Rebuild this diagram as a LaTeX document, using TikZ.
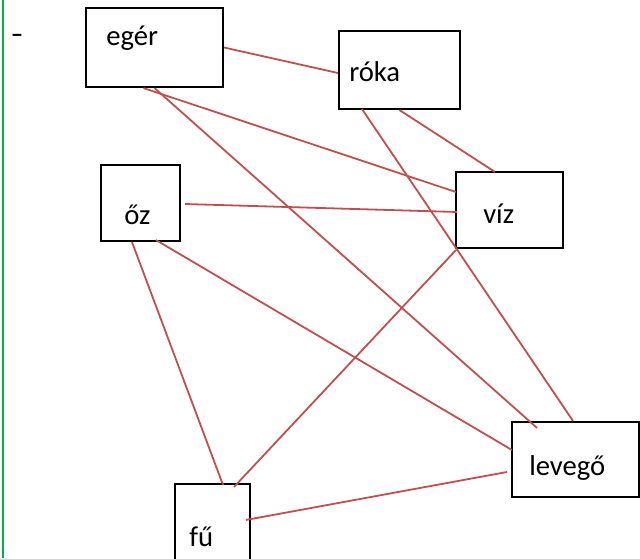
\documentclass[tikz,border=0pt]{standalone}
\usepackage{fontspec}
\setmainfont{Carlito}
\usetikzlibrary{calc}
\definecolor{linkred}{HTML}{C0504D}
\definecolor{margingreen}{HTML}{00B050}

\begin{document}
\begin{tikzpicture}[x=0.75pt,y=-0.75pt,
    box node/.style={rectangle,draw=black,line width=1.6pt,inner sep=0pt,fill=white},
    word node/.style={anchor=base west,inner sep=0pt,font=\fontsize{21.5}{26}\selectfont},
    link/.style={-,draw=linkred,line width=1.35pt}]
   \useasboundingbox (0,0) rectangle (640,558);
   \draw[margingreen,line width=1.2pt] (3,0) -- (3,558);
   \node[word node,xscale=1.3] (bullet) at (11,43) {-};
   % boxes
   \node[box node,minimum width=102.75pt,minimum height=59.25pt] (eger) at (154.5,47.5) {};
   \node[box node,minimum width=90.75pt,minimum height=58.5pt] (roka) at (399.5,70) {};
   \node[box node,minimum width=80.25pt,minimum height=57pt] (viz) at (509.5,210) {};
   \node[box node,minimum width=59.25pt,minimum height=57pt] (oz) at (140.5,203) {};
   \node[box node,minimum width=95.25pt,minimum height=56.25pt] (levego) at (575.5,459.5) {};
   \node[box node,minimum width=56.25pt,minimum height=63pt] (fu) at (212.5,526) {};
   % words
   \node[word node] (eger text) at (106,45) {egér};
   \node[word node] (roka text) at (349,81) {róka};
   \node[word node] (viz text) at (483,223) {víz};
   \node[word node] (oz text) at (124,224) {őz};
   \node[word node] (levego text) at (529,475) {levegő};
   \node[word node] (fu text) at (189,546) {fű};
   % links
   \path[link] (eger.east) edge ($(roka.west)+(0,3)$);
   \path[link] ($(eger.south)+(-11,0)$) edge ($(viz.west)+(1,-18)$);
   \path[link] (eger.south) edge ($(levego.north)+(-38.5,7)$);
   \path[link] ($(roka.south)+(-37.5,-1)$) edge ($(levego.north)+(-2.5,0)$);
   \path[link] (roka.south) edge ($(viz.north)+(-14.5,1)$);
   \path[link] ($(oz.east)+(4,1)$) edge ($(viz.west)+(2,2)$);
   \path[link] ($(oz.south)+(15.5,-2)$) edge ($(levego.west)+(1,-9.5)$);
   \path[link] ($(oz.south)+(-8.5,0)$) edge ($(fu.north)+(10.5,2)$);
   \path[link] ($(viz.south west)+(1,1)$) edge ($(fu.north)+(21.5,4)$);
   \path[link] ($(levego.west)+(-4,12.5)$) edge ($(fu.north east)+(-5,37)$);
\end{tikzpicture}
\end{document}
